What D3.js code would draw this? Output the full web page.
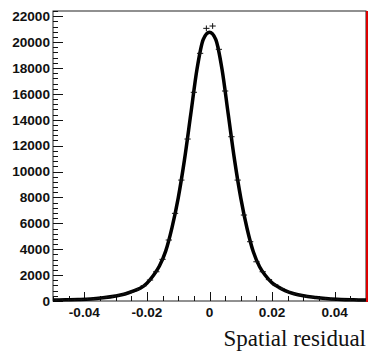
<!DOCTYPE html>
<html>
<head>
<meta charset="utf-8">
<script src="https://cdn.jsdelivr.net/npm/d3@7"></script>
<style>
  body { margin: 0; background: white; }
  .tickLbl { font-family: 'Liberation Sans', Arial, sans-serif; font-weight: bold; font-size: 13.6px; fill: #111; }
  .axTitle { font-family: 'Liberation Serif', 'Times New Roman', serif; font-size: 23px; fill: #111; }
</style>
</head>
<body>
<div id="chart"></div>
<script>
// histogram bins (bin centres) and counts
const binCentres = [-0.049, -0.047, -0.045, -0.043, -0.041, -0.039, -0.037, -0.035, -0.033, -0.031,
  -0.029, -0.027, -0.025, -0.023, -0.021, -0.019, -0.017, -0.015, -0.013, -0.011,
  -0.009, -0.007, -0.005, -0.003, -0.001, 0.001, 0.003, 0.005, 0.007, 0.009,
  0.011, 0.013, 0.015, 0.017, 0.019, 0.021, 0.023, 0.025, 0.027, 0.029,
  0.031, 0.033, 0.035, 0.037, 0.039, 0.041, 0.043, 0.045, 0.047, 0.049];
const binCounts = [70, 80, 90, 100, 115, 140, 160, 210, 280, 350,
  440, 560, 700, 900, 1180, 1620, 2260, 3220, 4710, 6770,
  9340, 12510, 16120, 19130, 21060, 21240, 19440, 16220, 12690, 9340,
  6640, 4580, 3030, 2260, 1650, 1250, 950, 720, 560, 450,
  360, 290, 230, 180, 150, 130, 110, 100, 85, 75];

// fitted curve
const fitX = [-0.05, -0.046, -0.042, -0.038, -0.034, -0.030, -0.027, -0.024, -0.022, -0.020,
  -0.018, -0.016, -0.014, -0.012, -0.010, -0.008, -0.006, -0.004, -0.002, 0,
  0.002, 0.004, 0.006, 0.008, 0.010, 0.012, 0.014, 0.016, 0.018, 0.020,
  0.022, 0.024, 0.027, 0.030, 0.034, 0.038, 0.042, 0.046, 0.05];
const fitY = [70, 90, 110, 150, 250, 390, 540, 800, 1000, 1380,
  1950, 2700, 3850, 5650, 7950, 10900, 14400, 17900, 20200, 20750,
  20200, 17900, 14400, 10900, 7950, 5600, 3800, 2650, 1930, 1400,
  1080, 820, 560, 400, 270, 170, 120, 95, 75];

const xTicks = [-0.04, -0.02, 0, 0.02, 0.04];
const xTickLabels = ['-0.04', '-0.02', '0', '0.02', '0.04'];
const yTicks = [0, 2000, 4000, 6000, 8000, 10000, 12000, 14000, 16000, 18000, 20000, 22000];
const xTitle = 'Spatial residual';

const W = 368, H = 354;
const frame = {left: 53, top: 11, right: 366, bottom: 301};

const xScale = d3.scaleLinear().domain([-0.05, 0.05]).range([frame.left, frame.right]);
const yScale = d3.scaleLinear().domain([0, 22400]).range([frame.bottom, frame.top]);

const svg = d3.select('#chart')
    .append('svg')
    .attr('width', W)
    .attr('height', H)
    .style('background', 'white');

// frame
svg.append('rect')
    .attr('x', frame.left)
    .attr('y', frame.top)
    .attr('width', frame.right - frame.left)
    .attr('height', frame.bottom - frame.top)
    .attr('fill', 'none')
    .attr('stroke', '#222')
    .attr('stroke-width', 1);

// minor + major ticks, pointing inward
const xMinor = d3.range(-0.05, 0.0501, 0.005);
svg.append('g').selectAll('line')
    .data(xMinor)
    .enter().append('line')
    .attr('x1', d => Math.round(xScale(d)) + 0.5)
    .attr('x2', d => Math.round(xScale(d)) + 0.5)
    .attr('y1', frame.bottom)
    .attr('y2', d => frame.bottom - (xTicks.some(t => Math.abs(t - d) < 1e-9) ? 9 : 5))
    .attr('stroke', '#111');

const yMinor = d3.range(0, 22401, 400);
svg.append('g').selectAll('line')
    .data(yMinor)
    .enter().append('line')
    .attr('y1', d => Math.round(yScale(d)) + 0.5)
    .attr('y2', d => Math.round(yScale(d)) + 0.5)
    .attr('x1', frame.left)
    .attr('x2', d => frame.left + (d % 2000 === 0 ? 10 : 5))
    .attr('stroke', '#111');

// tick labels
svg.append('g').selectAll('text')
    .data(yTicks)
    .enter().append('text')
    .attr('class', 'tickLbl')
    .attr('x', frame.left - 3)
    .attr('y', d => yScale(d))
    .attr('dy', '0.35em')
    .attr('text-anchor', 'end')
    .text(d => d);

svg.append('g').selectAll('text')
    .data(xTicks)
    .enter().append('text')
    .attr('class', 'tickLbl')
    .attr('x', d => xScale(d))
    .attr('y', 316.5)
    .attr('text-anchor', 'middle')
    .text((d, i) => xTickLabels[i]);

// axis title
svg.append('text')
    .attr('class', 'axTitle')
    .attr('x', frame.right)
    .attr('y', 346)
    .attr('text-anchor', 'end')
    .text(xTitle);

// fit curve
const fitData = fitX.map((x, i) => ({x: x, y: fitY[i]}));
svg.append('path')
    .datum(fitData)
    .attr('fill', 'none')
    .attr('stroke', 'black')
    .attr('stroke-width', 3.5)
    .attr('stroke-linejoin', 'round')
    .attr('d', d3.line()
        .x(d => xScale(d.x))
        .y(d => yScale(d.y))
        .curve(d3.curveMonotoneX));

// histogram points with error bars
const binW = 0.002;
const pts = svg.append('g')
    .selectAll('g')
    .data(binCentres.map((c, i) => ({c: c, n: binCounts[i]})))
    .enter().append('g');
pts.append('line')
    .attr('x1', d => xScale(d.c - binW / 2))
    .attr('x2', d => xScale(d.c + binW / 2))
    .attr('y1', d => yScale(d.n))
    .attr('y2', d => yScale(d.n))
    .attr('stroke', '#111')
    .attr('stroke-width', 1);
pts.append('line')
    .attr('x1', d => xScale(d.c))
    .attr('x2', d => xScale(d.c))
    .attr('y1', d => yScale(d.n + Math.sqrt(d.n)) - 1)
    .attr('y2', d => yScale(d.n - Math.sqrt(d.n)) + 1)
    .attr('stroke', '#111')
    .attr('stroke-width', 1);

// red right edge
svg.append('line')
    .attr('x1', 367)
    .attr('x2', 367)
    .attr('y1', frame.top)
    .attr('y2', frame.bottom + 1)
    .attr('stroke', '#d00')
    .attr('stroke-width', 2);
</script>
</body>
</html>
